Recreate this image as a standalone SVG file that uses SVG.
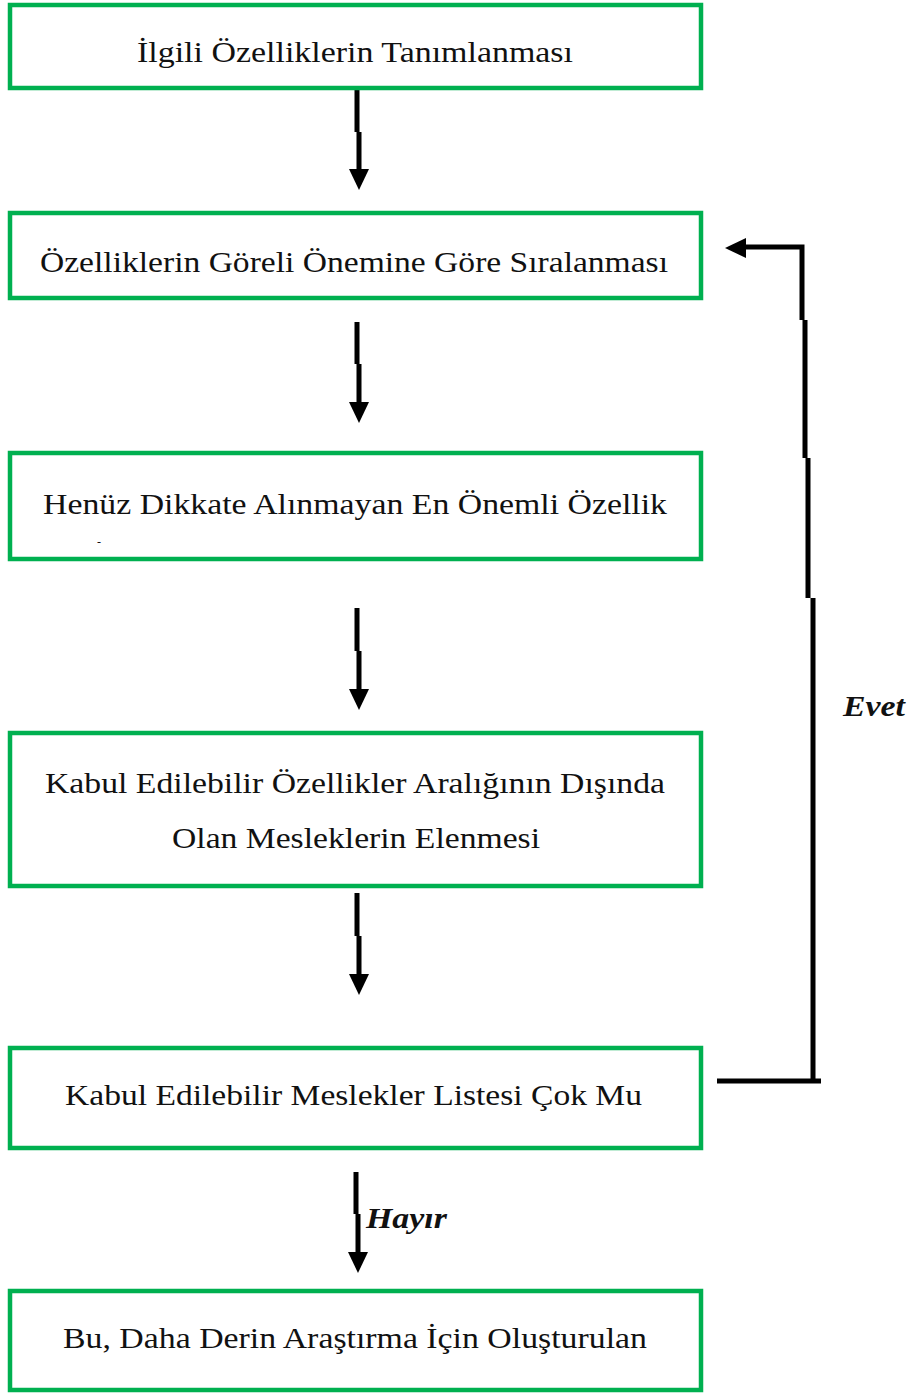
<svg xmlns="http://www.w3.org/2000/svg" width="911" height="1394" viewBox="0 0 911 1394">
<style>
.box{fill:#fff;stroke:#00b050;stroke-width:4.5}
.t{font-family:"Liberation Serif","Times New Roman",serif;font-size:29px;fill:#111}
.lbl{font-family:"Liberation Serif","Times New Roman",serif;font-size:29px;font-weight:bold;font-style:italic;fill:#111}
.ln{fill:none;stroke:#000;stroke-width:5;stroke-linejoin:miter}
.hd{fill:#000}
</style>
<defs>
<path id="hd" d="M-10,-21 L10,-21 L0,0 Z"/>
</defs>
<rect width="911" height="1394" fill="#fff"/>
<g id="connectors">
<path class="ln" d="M357,90 V132 M359,132 V172"/>
<use class="hd" href="#hd" x="359" y="190"/>
<path class="ln" d="M357,322 V364 M359,364 V405"/>
<use class="hd" href="#hd" x="359" y="423"/>
<path class="ln" d="M357,608 V651 M359,651 V692"/>
<use class="hd" href="#hd" x="359" y="710"/>
<path class="ln" d="M357,893 V936 M359,936 V977"/>
<use class="hd" href="#hd" x="359" y="995"/>
<path class="ln" d="M356,1172 V1214 M358,1214 V1255"/>
<use class="hd" href="#hd" x="358" y="1273"/>
<path class="ln" d="M717,1081 H821 M813,1083.5 V598 M808,598 V458 M805,458 V320 M802,320 V247 H742"/>
<use class="hd" href="#hd" transform="translate(725,248) rotate(90)"/>
</g>
<g id="n1"><rect class="box" x="10" y="5" width="691" height="83"/><text class="t" x="137" y="62" textLength="436" lengthAdjust="spacingAndGlyphs">İlgili Özelliklerin Tanımlanması</text></g>
<g id="n2"><rect class="box" x="10" y="213" width="691" height="85"/><text class="t" x="40" y="272" textLength="628" lengthAdjust="spacingAndGlyphs">Özelliklerin Göreli Önemine Göre Sıralanması</text></g>
<g id="n3"><rect class="box" x="10" y="453" width="691" height="106"/><text class="t" x="43" y="514" textLength="624" lengthAdjust="spacingAndGlyphs">Henüz Dikkate Alınmayan En Önemli Özellik</text><text class="t" x="97" y="546" style="font-size:12px">-</text></g>
<g id="n4"><rect class="box" x="10" y="733" width="691" height="153"/><text class="t" x="45" y="793" textLength="620" lengthAdjust="spacingAndGlyphs">Kabul Edilebilir Özellikler Aralığının Dışında</text><text class="t" x="172" y="848" textLength="368" lengthAdjust="spacingAndGlyphs">Olan Mesleklerin Elenmesi</text></g>
<g id="n5"><rect class="box" x="10" y="1048" width="691" height="100"/><text class="t" x="65" y="1105" textLength="577" lengthAdjust="spacingAndGlyphs">Kabul Edilebilir Meslekler Listesi Çok Mu</text></g>
<g id="n6"><rect class="box" x="10" y="1291" width="691" height="99"/><text class="t" x="63" y="1348" textLength="584" lengthAdjust="spacingAndGlyphs">Bu, Daha Derin Araştırma İçin Oluşturulan</text></g>
<text class="lbl" x="843" y="716" textLength="62" lengthAdjust="spacingAndGlyphs">Evet</text>
<text class="lbl" x="366" y="1228" textLength="81" lengthAdjust="spacingAndGlyphs">Hayır</text>
</svg>
